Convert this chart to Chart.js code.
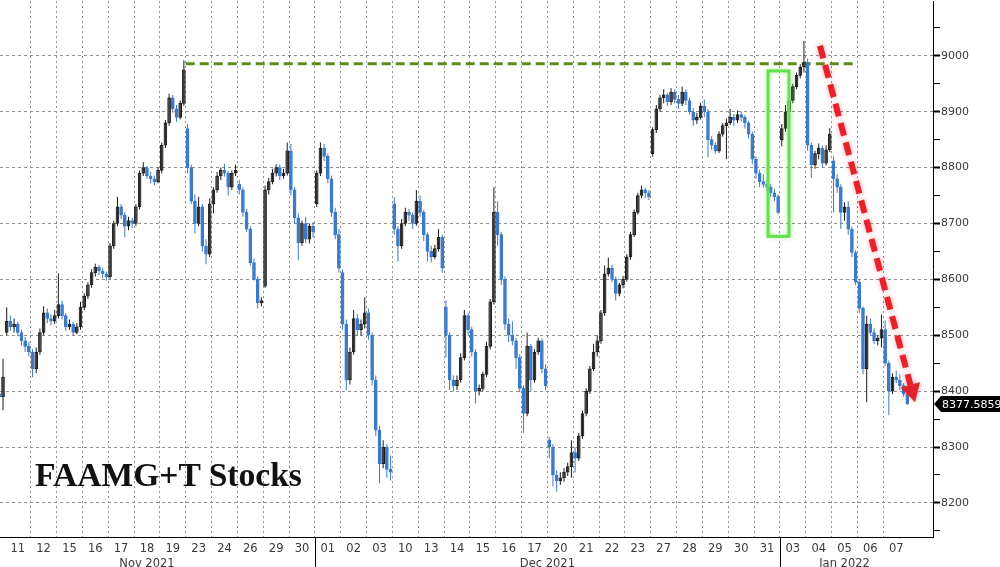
<!DOCTYPE html>
<html>
<head>
<meta charset="utf-8">
<title>FAAMG+T Stocks</title>
<script src="https://cdn.jsdelivr.net/npm/chart.js@4.4.1/dist/chart.umd.min.js"></script>
<style>
  html, body { margin: 0; padding: 0; background: #fff; }
  #wrap { position: relative; width: 1000px; height: 567px; overflow: hidden; }
  #chart { display: block; }
  #title {
    position: absolute; left: 35px; top: 458px;
    font: bold 33.6px "Liberation Serif", "DejaVu Serif", serif;
    line-height: 33px; color: #111; white-space: nowrap;
  }
</style>
</head>
<body>
<div id="wrap">
  <canvas id="chart" width="1000" height="567"></canvas>
  <div id="title">FAAMG+T Stocks</div>
</div>
<script>
// trading days shown on the axis (first one is only partly visible)
const dayLabels = ['10', '11', '12', '15', '16', '17', '18', '19', '23', '24', '26', '29', '30',
  '01', '02', '03', '10', '13', '14', '15', '16', '17', '20', '21', '22', '23', '27', '28', '29', '30', '31',
  '03', '04', '05', '06', '07'];
const monthLabels = ['Nov 2021', 'Dec 2021', 'Jan 2022'];
const monthFirstDay = [0, 13, 31];
const yTickValues = [8150, 8200, 8250, 8300, 8350, 8400, 8450, 8500, 8550, 8600,
  8650, 8700, 8750, 8800, 8850, 8900, 8950, 9000, 9050];

// hourly bars, 7 per day
const opens = [
  8450, 8440, 8425, 8410, 8405, 8395, 8390,
  8505, 8525, 8515, 8520, 8505, 8490, 8480,
  8470, 8440, 8470, 8505, 8540, 8530, 8525,
  8535, 8555, 8535, 8515, 8520, 8505, 8515,
  8550, 8570, 8590, 8612, 8622, 8615, 8610,
  8605, 8660, 8700, 8730, 8715, 8695, 8705,
  8700, 8730, 8790, 8800, 8785, 8780, 8775,
  8795, 8840, 8880, 8925, 8905, 8890, 8915,
  8870, 8800, 8740, 8700, 8730, 8660, 8645,
  8735, 8760, 8785, 8795, 8790, 8765, 8790,
  8770, 8760, 8720, 8690, 8630, 8600, 8558,
  8588, 8760, 8775, 8790, 8800, 8785, 8790,
  8830, 8760, 8710, 8665, 8700, 8672, 8695,
  8735, 8790, 8835, 8820, 8780, 8720, 8680,
  8612, 8520, 8420, 8470, 8530, 8510, 8520,
  8540, 8500, 8420, 8330, 8270, 8300, 8260,
  8735, 8690, 8660, 8700, 8720, 8715, 8700,
  8740, 8720, 8680, 8650, 8640, 8655, 8675,
  8550, 8500, 8420, 8410, 8420, 8460, 8535,
  8510, 8470, 8400, 8405, 8430, 8480, 8560,
  8720, 8680, 8600, 8520, 8500, 8490, 8460,
  8405, 8360, 8480, 8420, 8470, 8490, 8440,
  8313, 8300, 8250, 8240, 8245, 8255, 8265,
  8290, 8280, 8320, 8360, 8400, 8440, 8470,
  8490, 8540, 8610, 8620, 8600, 8575, 8590,
  8600, 8640, 8680, 8720, 8750, 8760, 8755,
  8825, 8868, 8905, 8925, 8930, 8918, 8935,
  8922, 8915, 8935, 8920, 8900, 8885, 8890,
  8910, 8900, 8850, 8840, 8830, 8860, 8875,
  8880, 8890, 8885, 8895, 8890, 8880, 8860,
  8815, 8790, 8775, 8770, 8765, 8755, 8748,
  8850, 8870, 8900, 8920, 8945, 8965, 8980,
  8988, 8840, 8805, 8825, 8835, 8808, 8832,
  8812, 8780, 8765, 8720, 8730, 8690, 8648,
  8595, 8548, 8440, 8520, 8505, 8490, 8495,
  8510, 8450, 8400, 8425, 8420, 8410, 8395
];
const highs = [
  8460, 8448, 8430, 8415, 8410, 8400, 8458,
  8550, 8535, 8530, 8524, 8510, 8497, 8488,
  8475, 8478, 8512, 8552, 8548, 8538, 8545,
  8611, 8562, 8540, 8528, 8524, 8522, 8560,
  8575, 8595, 8618, 8628, 8626, 8620, 8614,
  8665, 8705, 8748, 8735, 8720, 8712, 8710,
  8735, 8795, 8810, 8803, 8792, 8786, 8800,
  8845, 8885, 8932, 8930, 8912, 8920, 8992,
  8878, 8805, 8752, 8748, 8735, 8672, 8745,
  8765, 8792, 8800, 8807, 8794, 8795, 8805,
  8778, 8765, 8726, 8695, 8638, 8605, 8568,
  8768, 8782, 8798, 8806, 8805, 8798, 8845,
  8842, 8765, 8718, 8705, 8712, 8700, 8702,
  8795, 8845, 8842, 8825, 8786, 8728, 8690,
  8618, 8528, 8478, 8545, 8538, 8528, 8568,
  8548, 8505, 8428, 8338, 8312, 8305, 8285,
  8747, 8695, 8708, 8728, 8726, 8720, 8760,
  8750, 8724, 8684, 8660, 8662, 8690, 8680,
  8562, 8505, 8428, 8428, 8468, 8545, 8540,
  8515, 8475, 8412, 8435, 8488, 8565, 8765,
  8740, 8685, 8605, 8530, 8525, 8495, 8466,
  8410, 8505, 8485, 8475, 8495, 8494, 8448,
  8318, 8305, 8258, 8255, 8262, 8272, 8312,
  8300, 8325, 8365, 8405, 8445, 8485, 8500,
  8545, 8625, 8639, 8626, 8605, 8594, 8606,
  8645, 8685, 8725, 8755, 8768, 8764, 8760,
  8872, 8912, 8930, 8940, 8934, 8942, 8940,
  8930, 8945, 8940, 8925, 8906, 8898, 8916,
  8922, 8905, 8856, 8846, 8865, 8880, 8888,
  8905, 8896, 8902, 8900, 8894, 8884, 8864,
  8820, 8796, 8788, 8778, 8770, 8762, 8752,
  8878, 8912, 8926, 8950, 8970, 8985, 9027,
  8995, 8845, 8830, 8843, 8840, 8840, 8871,
  8820, 8788, 8770, 8738, 8740, 8694, 8652,
  8600, 8552, 8535, 8530, 8512, 8500, 8537,
  8527, 8455, 8432, 8437, 8430, 8414, 8400
];
const lows = [
  8432, 8420, 8405, 8398, 8390, 8380, 8366,
  8500, 8508, 8505, 8498, 8482, 8470, 8462,
  8425, 8432, 8465, 8500, 8522, 8518, 8520,
  8530, 8528, 8508, 8510, 8500, 8502, 8510,
  8545, 8565, 8585, 8605, 8608, 8602, 8598,
  8600, 8655, 8695, 8708, 8675, 8688, 8692,
  8695, 8725, 8785, 8780, 8772, 8768, 8772,
  8790, 8835, 8875, 8898, 8882, 8886, 8910,
  8790, 8735, 8682, 8695, 8650, 8627, 8640,
  8718, 8755, 8778, 8784, 8750, 8760, 8785,
  8752, 8712, 8685, 8625, 8598, 8548, 8552,
  8585, 8752, 8770, 8784, 8778, 8780, 8786,
  8750, 8700, 8634, 8660, 8665, 8664, 8675,
  8730, 8785, 8812, 8772, 8712, 8672, 8612,
  8510, 8402, 8412, 8465, 8498, 8500, 8512,
  8492, 8410, 8320, 8235, 8262, 8245, 8240,
  8680, 8632, 8655, 8695, 8705, 8690, 8696,
  8712, 8668, 8632, 8630, 8636, 8650, 8612,
  8460, 8402, 8400, 8402, 8415, 8455, 8500,
  8462, 8378, 8392, 8400, 8425, 8475, 8555,
  8660, 8590, 8510, 8488, 8482, 8440, 8398,
  8325, 8355, 8400, 8415, 8465, 8432, 8402,
  8280, 8230, 8220, 8232, 8238, 8248, 8245,
  8255, 8275, 8315, 8355, 8395, 8436, 8462,
  8485, 8535, 8605, 8595, 8562, 8570, 8584,
  8596, 8635, 8676, 8716, 8745, 8745, 8742,
  8820, 8862, 8900, 8915, 8910, 8912, 8915,
  8905, 8910, 8912, 8895, 8875, 8878, 8886,
  8890, 8818, 8832, 8825, 8826, 8855, 8815,
  8876, 8875, 8880, 8882, 8870, 8852, 8806,
  8780, 8765, 8764, 8758, 8748, 8740, 8716,
  8838, 8864, 8892, 8915, 8940, 8960, 8970,
  8830, 8782, 8798, 8815, 8800, 8804, 8828,
  8720, 8755, 8690, 8705, 8680, 8640, 8590,
  8540, 8430, 8380, 8500, 8484, 8482, 8478,
  8445, 8357, 8395, 8414, 8402, 8390, 8375
];
const closes = [
  8440, 8425, 8410, 8405, 8395, 8390, 8425,
  8525, 8515, 8520, 8505, 8490, 8480, 8470,
  8440, 8470, 8505, 8540, 8530, 8525, 8535,
  8555, 8535, 8515, 8520, 8505, 8515, 8550,
  8570, 8590, 8612, 8622, 8615, 8610, 8605,
  8660, 8700, 8730, 8715, 8695, 8705, 8700,
  8730, 8790, 8800, 8785, 8780, 8775, 8795,
  8840, 8880, 8925, 8905, 8890, 8915, 8975,
  8800, 8740, 8700, 8730, 8660, 8645, 8735,
  8760, 8785, 8795, 8790, 8765, 8790, 8795,
  8760, 8720, 8690, 8630, 8600, 8558, 8562,
  8760, 8775, 8790, 8800, 8785, 8790, 8830,
  8760, 8710, 8665, 8700, 8672, 8695, 8685,
  8790, 8835, 8820, 8780, 8720, 8680, 8620,
  8520, 8420, 8470, 8530, 8510, 8520, 8540,
  8500, 8420, 8330, 8270, 8300, 8260, 8255,
  8690, 8660, 8700, 8720, 8715, 8700, 8740,
  8720, 8680, 8650, 8640, 8655, 8675, 8620,
  8500, 8420, 8410, 8420, 8460, 8535, 8510,
  8470, 8400, 8405, 8430, 8480, 8560, 8720,
  8680, 8600, 8520, 8500, 8490, 8460, 8405,
  8360, 8480, 8420, 8470, 8490, 8440, 8410,
  8300, 8250, 8240, 8245, 8255, 8265, 8290,
  8280, 8320, 8360, 8400, 8440, 8470, 8490,
  8540, 8610, 8620, 8600, 8575, 8590, 8600,
  8640, 8680, 8720, 8750, 8760, 8755, 8748,
  8868, 8905, 8925, 8930, 8918, 8935, 8922,
  8915, 8935, 8920, 8900, 8885, 8890, 8910,
  8900, 8850, 8840, 8830, 8860, 8875, 8880,
  8890, 8885, 8895, 8890, 8880, 8860, 8815,
  8790, 8775, 8770, 8765, 8755, 8748, 8720,
  8870, 8900, 8920, 8945, 8965, 8980, 8988,
  8840, 8805, 8825, 8835, 8808, 8832, 8860,
  8780, 8765, 8720, 8730, 8690, 8648, 8595,
  8548, 8440, 8520, 8505, 8490, 8495, 8510,
  8450, 8400, 8425, 8420, 8410, 8395, 8377.5859
];
const barsPerDay = 7;

// chart markup: resistance line, breakout box, trend arrow (x in day units)
const resistLevel = 8986, resistFrom = 8, resistTo = 34;
const boxX = [30.54, 31.35], boxY = [8677, 8973];
const arrowFrom = [32.55, 9018], arrowTo = [36.23, 8380];

const UP_FILL = '#7c7c7c', UP_LINE = '#1c1c1c';
const DOWN_FILL = '#4583d0', DOWN_LINE = '#3b78c6';
const GRID = '#8e8e8e';
const X_FONT = { family: 'DejaVu Sans', size: 11.5, lineHeight: 1.2 };
const Y_FONT = { family: 'DejaVu Sans', size: 11, lineHeight: 0.01 };

const barX = i => Math.floor(i / barsPerDay) + ((i % barsPerDay) + 0.5) / barsPerDay;
const isUp = i => closes[i] >= opens[i];

const wickData = highs.map((h, i) => ({ x: barX(i), y: [lows[i], h] }));
const bodyData = opens.map((o, i) => ({ x: barX(i), y: [o, closes[i]] }));

// ticks for the day axis: boundaries carry the grid, centres carry the labels
const dayTicks = [];
for (let d = 1; d < dayLabels.length; d++) {
  dayTicks.push(d + 0.5);
  if (d >= 2) dayTicks.push(d);
}
dayTicks.sort((a, b) => a - b);
const monthCenters = monthFirstDay.map((d, i) =>
  (d + (i + 1 < monthFirstDay.length ? monthFirstDay[i + 1] : dayLabels.length)) / 2);

const X_MIN = 0.812, X_MAX = 36.924;

const markup = {
  id: 'markup',
  beforeDatasetsDraw(chart) {
    const { ctx, scales: { x, y } } = chart;
    const ry = y.getPixelForValue(resistLevel);
    ctx.save();
    ctx.strokeStyle = '#5e8a1d';
    ctx.lineWidth = 3;
    ctx.setLineDash([9, 5]);
    ctx.beginPath();
    ctx.moveTo(x.getPixelForValue(resistFrom), ry);
    ctx.lineTo(x.getPixelForValue(resistTo), ry);
    ctx.stroke();
    ctx.restore();
  },
  afterDatasetsDraw(chart) {
    const { ctx, scales: { x, y } } = chart;
    ctx.save();
    // green box
    ctx.strokeStyle = '#62e24a';
    ctx.lineWidth = 3;
    ctx.shadowColor = 'rgba(98,226,74,0.5)';
    ctx.shadowBlur = 4;
    const bx0 = x.getPixelForValue(boxX[0]), bx1 = x.getPixelForValue(boxX[1]);
    const by0 = y.getPixelForValue(boxY[1]), by1 = y.getPixelForValue(boxY[0]);
    ctx.strokeRect(bx0, by0, bx1 - bx0, by1 - by0);

    // red dashed arrow
    const x0 = x.getPixelForValue(arrowFrom[0]), y0 = y.getPixelForValue(arrowFrom[1]);
    const x1 = x.getPixelForValue(arrowTo[0]), y1 = y.getPixelForValue(arrowTo[1]);
    const ang = Math.atan2(y1 - y0, x1 - x0);
    const headLen = 18, headHalf = 10;
    const hx = x1 - headLen * Math.cos(ang), hy = y1 - headLen * Math.sin(ang);
    ctx.strokeStyle = '#e5222b';
    ctx.fillStyle = '#e5222b';
    ctx.shadowColor = 'rgba(229,34,43,0.45)';
    ctx.shadowBlur = 5;
    ctx.lineWidth = 6;
    ctx.setLineDash([13, 7]);
    ctx.beginPath();
    ctx.moveTo(x0, y0);
    ctx.lineTo(hx, hy);
    ctx.stroke();
    ctx.setLineDash([]);
    ctx.beginPath();
    ctx.moveTo(x1, y1);
    ctx.lineTo(hx + headHalf * Math.sin(ang), hy - headHalf * Math.cos(ang));
    ctx.lineTo(hx - headHalf * Math.sin(ang), hy + headHalf * Math.cos(ang));
    ctx.closePath();
    ctx.fill();
    ctx.restore();
  },
  afterDraw(chart) {
    const { ctx, scales: { x, y }, chartArea } = chart;
    ctx.save();
    // month separators under the axis
    ctx.strokeStyle = '#000';
    ctx.lineWidth = 1;
    monthFirstDay.slice(1).forEach(d => {
      const px = Math.round(x.getPixelForValue(d)) + 0.5;
      ctx.beginPath();
      ctx.moveTo(px, chartArea.bottom);
      ctx.lineTo(px, chart.height);
      ctx.stroke();
    });
    // last price tag
    const last = closes[closes.length - 1];
    const ty = Math.round(y.getPixelForValue(last));
    const tx = chartArea.right + 1;
    ctx.fillStyle = '#000';
    ctx.beginPath();
    ctx.moveTo(tx, ty);
    ctx.lineTo(tx + 7, ty - 8);
    ctx.lineTo(chart.width, ty - 8);
    ctx.lineTo(chart.width, ty + 8);
    ctx.lineTo(tx + 7, ty + 8);
    ctx.closePath();
    ctx.fill();
    ctx.fillStyle = '#fff';
    ctx.font = '11px "DejaVu Sans"';
    ctx.textBaseline = 'middle';
    ctx.fillText(last.toFixed(4), tx + 8, ty + 1);
    ctx.restore();
  }
};

new Chart(document.getElementById('chart'), {
  type: 'bar',
  data: {
    datasets: [
      {
        label: 'range',
        data: wickData,
        grouped: false,
        maxBarThickness: 1,
        backgroundColor: ctx => isUp(ctx.dataIndex) ? UP_LINE : DOWN_LINE,
        borderWidth: 0,
        borderSkipped: false
      },
      {
        label: 'FAAMG+T',
        data: bodyData,
        grouped: false,
        barPercentage: 1,
        categoryPercentage: 1,
        maxBarThickness: 3,
        minBarLength: 1,
        backgroundColor: ctx => isUp(ctx.dataIndex) ? UP_FILL : DOWN_FILL,
        borderColor: ctx => isUp(ctx.dataIndex) ? UP_LINE : DOWN_LINE,
        borderWidth: 1,
        borderSkipped: false
      }
    ]
  },
  options: {
    responsive: false,
    animation: false,
    layout: { padding: 0 },
    plugins: { legend: { display: false }, tooltip: { enabled: false } },
    scales: {
      x: {
        type: 'linear',
        position: 'bottom',
        weight: 0,
        min: X_MIN,
        max: X_MAX,
        offset: false,
        afterBuildTicks: axis => { axis.ticks = dayTicks.map(v => ({ value: v })); },
        afterFit: axis => { axis.height = 18; },
        grid: {
          offset: false,
          drawTicks: false,
          color: c => (c.tick && c.tick.value % 1 === 0) ? GRID : 'rgba(0,0,0,0)'
        },
        border: { color: '#000', dash: [2, 3] },
        ticks: {
          autoSkip: false,
          maxRotation: 0,
          padding: 5,
          color: '#3a3a3a',
          font: X_FONT,
          callback: v => (v % 1 === 0.5) ? dayLabels[Math.floor(v)] : ''
        }
      },
      xMonth: {
        type: 'linear',
        position: 'bottom',
        weight: 1,
        min: X_MIN,
        max: X_MAX,
        offset: false,
        afterBuildTicks: axis => { axis.ticks = monthCenters.map(v => ({ value: v })); },
        afterFit: axis => { axis.height = 12; },
        grid: { display: false, drawTicks: false },
        border: { display: false },
        ticks: {
          autoSkip: false,
          maxRotation: 0,
          padding: 2,
          color: '#3a3a3a',
          font: X_FONT,
          callback: (v, i) => monthLabels[i]
        }
      },
      y: {
        type: 'linear',
        position: 'right',
        min: 8139,
        max: 9098,
        afterBuildTicks: axis => { axis.ticks = yTickValues.map(v => ({ value: v })); },
        afterFit: axis => { axis.width = 67; },
        grid: {
          color: c => (c.tick && c.tick.value % 100 === 0) ? GRID : 'rgba(0,0,0,0)',
          drawTicks: true,
          tickLength: 7,
          tickColor: '#000',
          tickWidth: c => (c.tick && c.tick.value % 100 === 0) ? 2 : 1
        },
        border: { color: '#000', dash: [3, 3] },
        ticks: {
          padding: 1,
          color: '#3a3a3a',
          font: Y_FONT,
          callback: v => (v % 100 === 0) ? String(v) : ''
        }
      }
    }
  },
  plugins: [markup]
});
</script>
</body>
</html>
